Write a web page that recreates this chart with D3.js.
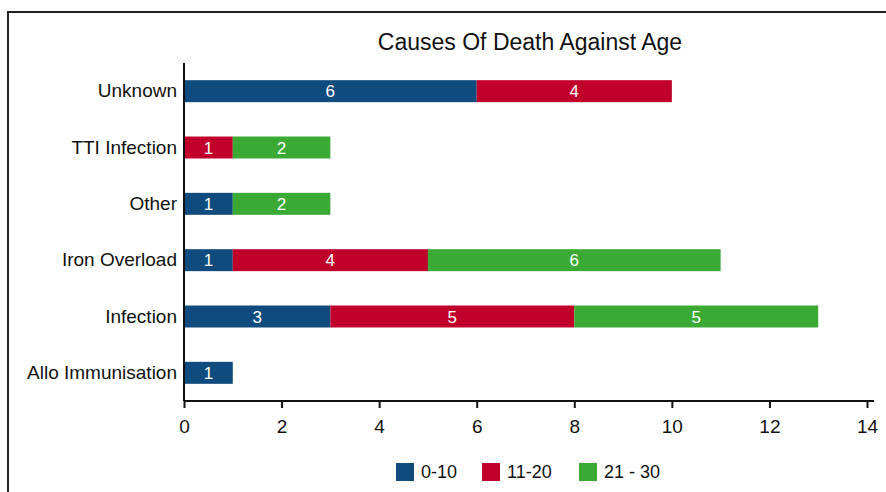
<!DOCTYPE html>
<html><head><meta charset="utf-8">
<script src="https://cdn.jsdelivr.net/npm/d3@7"></script>
<style>body{margin:0;background:#fff;}svg{display:block;font-family:"Liberation Sans",Arial,Helvetica,sans-serif;}</style>
</head><body>
<svg id="c" width="886" height="492"></svg>
<script>
const categories = ["Unknown","TTI Infection","Other","Iron Overload","Infection","Allo Immunisation"];
const seriesNames = ["0-10","11-20","21 - 30"];
const age0to10 = [6,0,1,1,3,1];
const age11to20 = [4,1,0,4,5,0];
const age21to30 = [0,2,2,6,5,0];
const xTicks = [0,2,4,6,8,10,12,14];
const colors = ["#104B7D","#C0002A","#3AAA35"];
const title = "Causes Of Death Against Age";

const svg = d3.select("#c");
const rows = categories.map((c,i)=>({cat:c, "0-10":age0to10[i], "11-20":age11to20[i], "21 - 30":age21to30[i]}));
const stack = d3.stack().keys(seriesNames)(rows);

const x = d3.scaleLinear().domain([0,14]).range([184,867]);
const y = d3.scaleBand().domain(categories).range([63,401]).paddingInner(0.61).paddingOuter(0.305);

// frame
svg.append("path").attr("d","M8,492 V12 H886").attr("fill","none").attr("stroke","#222").attr("stroke-width",2);

svg.append("text").attr("x",530).attr("y",50).attr("text-anchor","middle")
  .attr("font-size",23).attr("fill","#111").text(title);

const g = svg.append("g");
stack.forEach((s,si)=>{
  s.forEach(d=>{
    const v = d[1]-d[0];
    if(v<=0) return;
    g.append("rect").attr("x",x(d[0])).attr("y",y(d.data.cat))
      .attr("width",x(d[1])-x(d[0])).attr("height",y.bandwidth()).attr("fill",colors[si]);
    g.append("text").attr("x",(x(d[0])+x(d[1]))/2).attr("y",y(d.data.cat)+y.bandwidth()/2)
      .attr("dy","0.36em").attr("text-anchor","middle").attr("fill","#fff").attr("font-size",17).text(v);
  });
});

// axes
const xa = svg.append("g").attr("transform","translate(0,401)")
  .call(d3.axisBottom(x).tickValues(xTicks).tickSize(7).tickSizeOuter(0).tickPadding(12));
xa.select(".domain").attr("d","M184,0H874").attr("stroke","#111").attr("stroke-width",2);
xa.selectAll(".tick line").attr("stroke","#111").attr("stroke-width",2);
xa.selectAll(".tick text").attr("font-size",19).attr("fill","#111").attr("font-family","Liberation Sans, Arial, sans-serif");

const ya = svg.append("g").attr("transform","translate(184,0)")
  .call(d3.axisLeft(y).tickSize(0).tickPadding(7));
ya.select(".domain").attr("d","M0,63V401").attr("stroke","#111").attr("stroke-width",2);
ya.selectAll(".tick text").attr("font-size",19).attr("fill","#111").attr("font-family","Liberation Sans, Arial, sans-serif");

// legend
const lx = [396,482,579];
seriesNames.forEach((n,i)=>{
  svg.append("rect").attr("x",lx[i]).attr("y",463).attr("width",18).attr("height",18).attr("fill",colors[i]);
  svg.append("text").attr("x",lx[i]+25).attr("y",472).attr("dy","0.36em").attr("font-size",18).attr("fill","#111").text(n);
});
</script>
</body></html>
